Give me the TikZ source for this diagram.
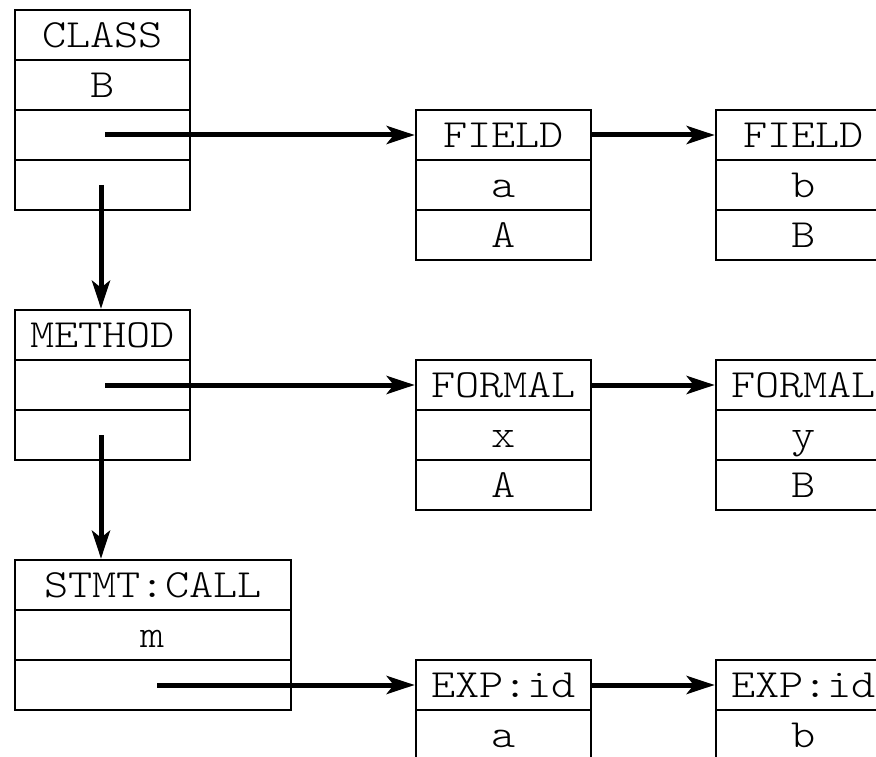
\documentclass[tikz,border=0pt]{standalone}
\usepackage{fontspec}
\setmonofont{Latin Modern Mono Light}[FakeStretch=1.15]
\usetikzlibrary{arrows.meta}
\newcommand{\celltt}{\fontsize{40pt}{40pt}\selectfont\ttfamily}
\tikzset{
  cell/.style={draw, line width=2.5pt, minimum width=175pt, minimum height=50pt,
    inner sep=0pt, text height=24.5pt, text depth=0pt, font=\celltt},
  wide/.style={minimum width=276pt},
  arr/.style={line width=5pt, -{Stealth[length=28pt,width=18pt,inset=7pt]}}
}
\begin{document}
\begin{tikzpicture}[x=1pt,y=-1pt]
\useasboundingbox (0,0) rectangle (876,757);
\clip (0,0) rectangle (876,757);
% CLASS
\node[cell] (c1) at (102.5,35) {CLASS};
\node[cell] (c2) at (102.5,85) {B};
\node[cell] (c3) at (102.5,135) {};
\node[cell] (c4) at (102.5,185) {};
% FIELD a
\node[cell] (f1) at (503.5,135) {FIELD};
\node[cell] (f2) at (503.5,185) {a};
\node[cell] (f3) at (503.5,235) {A};
% FIELD b
\node[cell] (g1) at (803.5,135) {FIELD};
\node[cell] (g2) at (803.5,185) {b};
\node[cell] (g3) at (803.5,235) {B};
% METHOD
\node[cell] (m1) at (102.5,335) {METHOD};
\node[cell] (m2) at (102.5,385) {};
\node[cell] (m3) at (102.5,435) {};
% FORMAL x
\node[cell] (p1) at (503.5,385) {FORMAL};
\node[cell] (p2) at (503.5,435) {x};
\node[cell] (p3) at (503.5,485) {A};
% FORMAL y
\node[cell] (q1) at (803.5,385) {FORMAL};
\node[cell] (q2) at (803.5,435) {y};
\node[cell] (q3) at (803.5,485) {B};
% STMT:CALL
\node[cell,wide] (s1) at (153,585) {STMT:CALL};
\node[cell,wide] (s2) at (153,635) {m};
\node[cell,wide] (s3) at (153,685) {};
% EXP:id a
\node[cell] (e1) at (503.5,685) {EXP:id};
\node[cell] (e2) at (503.5,735) {a};
% EXP:id b
\node[cell] (h1) at (803.5,685) {EXP:id};
\node[cell] (h2) at (803.5,735) {b};
% connectors
\draw[arr] ([xshift=2.5pt]c3.center) -- (f1.west);
\draw[arr] (f1.east) -- (g1.west);
\draw[arr] ([xshift=-1.5pt]c4.center) -- ([xshift=-1.5pt]m1.north);
\draw[arr] ([xshift=2.5pt]m2.center) -- (p1.west);
\draw[arr] (p1.east) -- (q1.west);
\draw[arr] ([xshift=-1.5pt]m3.center) -- ([xshift=-1.5pt]s1.north -| m3.center);
\draw[arr] ([xshift=4pt]s3.center) -- (e1.west);
\draw[arr] (e1.east) -- (h1.west);
\end{tikzpicture}
\end{document}
